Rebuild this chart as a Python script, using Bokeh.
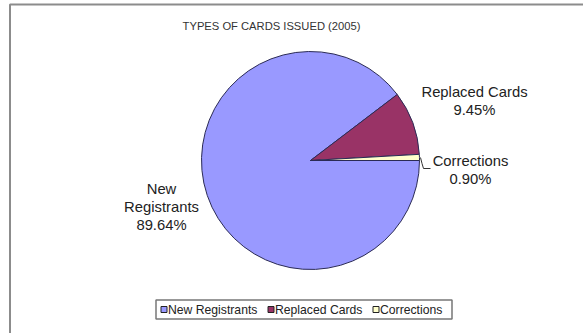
import math
from bokeh.plotting import figure
from bokeh.models import Range1d, ColumnDataSource
from bokeh.core.properties import value
from bokeh.embed import file_html
from bokeh.resources import INLINE

# ---- data ----
title = "TYPES OF CARDS ISSUED (2005)"
categories = ["New Registrants", "Replaced Cards", "Corrections"]
shares = [89.64, 9.45, 0.90]
label_names = ["New\nRegistrants", "Replaced Cards", "Corrections"]
colors = ["#9999FF", "#993366", "#FFFFCC"]

W, H = 583, 333
FONT = value("Liberation Sans")

def Y(py):
    return H - py

p = figure(width=W, height=H, output_backend="svg", toolbar_location=None,
           x_range=Range1d(0, W), y_range=Range1d(0, H), min_border=0)
p.axis.visible = False
p.grid.visible = False
p.outline_line_color = None
p.background_fill_color = "white"
p.border_fill_color = "white"

# outer chart frame
p.quad(left=[9.5], right=[W + 20], bottom=[Y(H + 20)], top=[Y(4)],
       fill_color=None, line_color="#8c8c8c", line_width=2)

# title
p.text(x=[271], y=[Y(25)], text=[title], text_font=FONT, text_font_size="11.2px",
       text_color="#333333", text_align="center", text_baseline="middle")

# pie: slices counter-clockwise from 3 o'clock, Corrections first
cx, cy, r = 310, Y(160), 109
total = sum(shares)
starts, ends = {}, {}
a = 0.0
for i in reversed(range(len(categories))):
    s = a
    a += shares[i] / total * 2 * math.pi
    starts[i], ends[i] = s, a
src = ColumnDataSource(dict(
    start=[starts[i] for i in range(len(categories))],
    end=[ends[i] for i in range(len(categories))],
    color=colors,
))
p.wedge(x=cx, y=cy, radius=r, start_angle="start", end_angle="end",
        fill_color="color", line_color="#2b2b55", line_width=1, source=src)

# data labels
lab_pos = {0: (161, 188), 1: (474, 91), 2: (470, 160)}
for i, cat in enumerate(categories):
    lx, ly = lab_pos[i]
    lines = label_names[i].split("\n") + ["%.2f%%" % shares[i]]
    for k, t in enumerate(lines):
        p.text(x=[lx], y=[Y(ly + 18 * k)], text=[t], text_font=FONT,
               text_font_size="14.8px", text_color="#222222",
               text_align="center", text_baseline="middle")

# leader line for Corrections
p.line(x=[420, 421.5, 423, 430], y=[Y(157), Y(163), Y(168), Y(168)],
       line_color="#333333", line_width=1)

# legend (manual, Excel style)
p.quad(left=[155.5], right=[451.5], bottom=[Y(318.5)], top=[Y(299.5)],
       fill_color="white", line_color="#777777", line_width=1.5)
leg_x = [163.5, 270.5, 375.5]
for i, cat in enumerate(categories):
    p.rect(x=[leg_x[i]], y=[Y(309)], width=6, height=6, fill_color=colors[i],
           line_color="#222222", line_width=1)
    p.text(x=[leg_x[i] + 4], y=[Y(309)], text=[cat], text_font=FONT,
           text_font_size="12.2px", text_color="#222222",
           text_align="left", text_baseline="middle")

open("out.html", "w").write(file_html(p, INLINE))
